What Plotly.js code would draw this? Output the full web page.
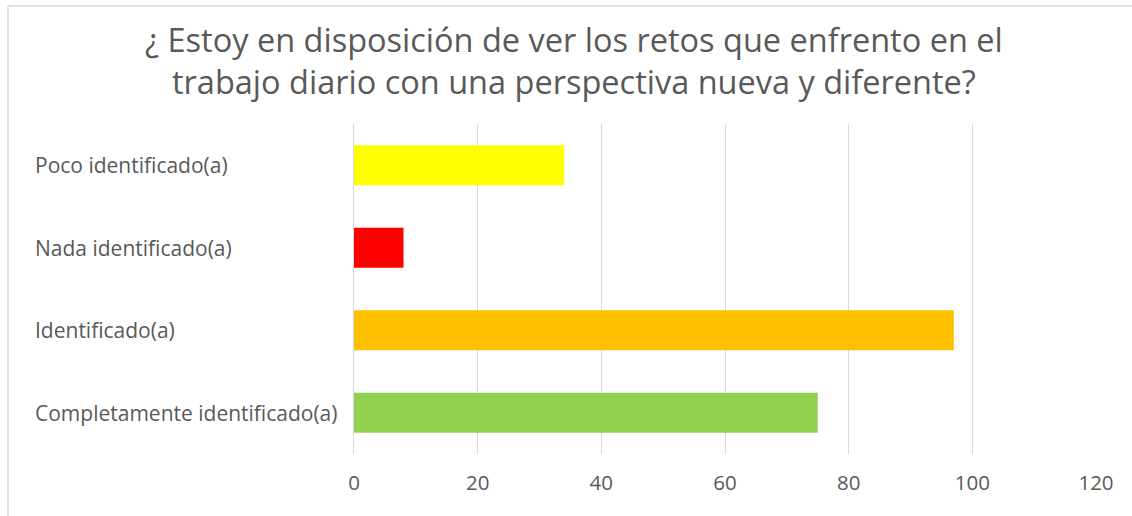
<!DOCTYPE html>
<html>
<head>
<meta charset="utf-8">
<script src="https://cdn.plot.ly/plotly-3.0.1.min.js"></script>
<style>html,body{margin:0;padding:0;background:#fff;}#chart{width:1132px;height:516px;}</style>
</head>
<body>
<div id="chart"></div>
<script>
const categories = ["Completamente identificado(a)", "Identificado(a)", "Nada identificado(a)", "Poco identificado(a)"];
const values = [75, 97, 8, 34];
const barColors = ["#92d050", "#ffc000", "#ff0000", "#ffff00"];
const tickValues = [0, 20, 40, 60, 80, 100, 120];
const titleText = "¿ Estoy en disposición de ver los retos que enfrento en el<br>trabajo diario con una perspectiva nueva y diferente?";

const fontFam = "'Open Sans', sans-serif";

const labelAnnotations = categories.map(c => ({
  xref: "paper", yref: "y", x: -0.4323, y: c,
  xanchor: "left", yanchor: "middle",
  text: c, showarrow: false,
  font: {family: fontFam, size: 21, color: "#595959"}
}));

Plotly.newPlot("chart", [{
  type: "bar",
  orientation: "h",
  y: categories,
  x: values,
  marker: {color: barColors},
  hoverinfo: "x+y"
}], {
  width: 1132, height: 516,
  margin: {l: 354, r: 36, t: 124, b: 62},
  paper_bgcolor: "#fff", plot_bgcolor: "#fff",
  bargap: 0.515,
  showlegend: false,
  title: {
    text: titleText,
    font: {family: fontFam, size: 32.5, color: "#595959"},
    x: 0.507, xanchor: "center",
    yref: "container", y: 0.9, yanchor: "middle"
  },
  xaxis: {
    range: [0, 120],
    tickvals: tickValues,
    ticktext: tickValues.map(String),
    showgrid: true, gridcolor: "#d9d9d9", gridwidth: 1,
    zeroline: false, showline: false,
    ticks: "",
    tickfont: {family: fontFam, size: 20.5, color: "#595959"},
    ticklabelstandoff: 14,
    fixedrange: true
  },
  yaxis: {
    categoryorder: "array",
    categoryarray: categories,
    showticklabels: false,
    showgrid: false, zeroline: false,
    showline: true, linecolor: "#d9d9d9", linewidth: 1,
    ticks: "",
    automargin: false,
    fixedrange: true
  },
  annotations: labelAnnotations,
  shapes: [
    {type: "line", xref: "paper", yref: "paper", x0: -0.4663, x1: 1.05, y0: 1.3576, y1: 1.3576, line: {color: "#e3e3e3", width: 2}},
    {type: "line", xref: "paper", yref: "paper", x0: -0.4663, x1: -0.4663, y0: 1.3576, y1: -0.2, line: {color: "#e3e3e3", width: 2}}
  ]
}, {displayModeBar: false, staticPlot: true});
</script>
</body>
</html>
